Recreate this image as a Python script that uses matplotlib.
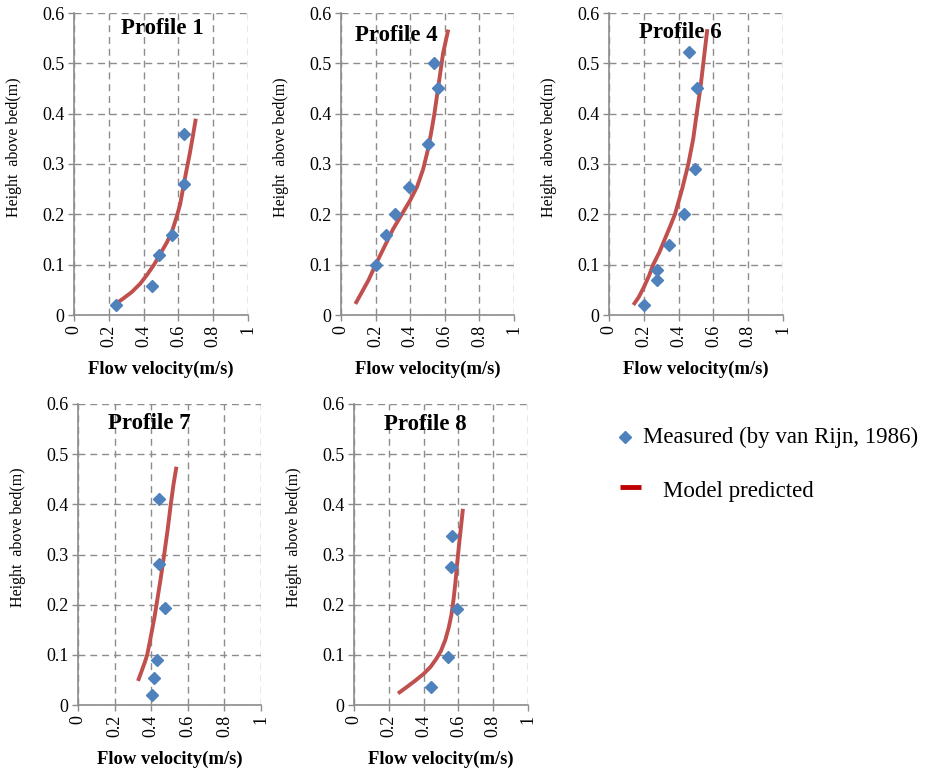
import matplotlib
matplotlib.use("Agg")
import matplotlib.pyplot as plt
from matplotlib.lines import Line2D

plt.rcParams['font.family'] = ['Liberation Serif', 'DejaVu Serif']

# --- Measured points (velocity m/s, height m) ---
p1_u = [0.242, 0.447, 0.486, 0.566, 0.63, 0.63]
p1_z = [0.02, 0.058, 0.119, 0.159, 0.26, 0.36]
p4_u = [0.202, 0.262, 0.31, 0.394, 0.502, 0.558, 0.535]
p4_z = [0.10, 0.159, 0.20, 0.255, 0.34, 0.451, 0.50]
p6_u = [0.202, 0.273, 0.277, 0.344, 0.431, 0.494, 0.504, 0.46]
p6_z = [0.02, 0.07, 0.09, 0.139, 0.20, 0.29, 0.451, 0.522]
p7_u = [0.407, 0.414, 0.429, 0.474, 0.442, 0.443]
p7_z = [0.019, 0.054, 0.09, 0.193, 0.282, 0.41]
p8_u = [0.444, 0.54, 0.594, 0.559, 0.563]
p8_z = [0.036, 0.095, 0.192, 0.275, 0.336]

# --- Model predicted profiles ---
m1_u = [0.24, 0.28, 0.33, 0.38, 0.42, 0.46, 0.50, 0.535, 0.565, 0.59, 0.61, 0.626,
        0.645, 0.665, 0.683, 0.70]
m1_z = [0.022, 0.032, 0.045, 0.062, 0.08, 0.10, 0.124, 0.145, 0.168, 0.195, 0.22, 0.25,
        0.285, 0.32, 0.355, 0.39]
m4_u = [0.083, 0.12, 0.16, 0.20, 0.25, 0.30, 0.36, 0.40, 0.44, 0.475, 0.50, 0.52,
        0.54, 0.565, 0.59, 0.62]
m4_z = [0.022, 0.045, 0.07, 0.10, 0.135, 0.17, 0.205, 0.228, 0.255, 0.29, 0.325, 0.36,
        0.40, 0.46, 0.52, 0.567]
m6_u = [0.14, 0.17, 0.20, 0.23, 0.254, 0.29, 0.32, 0.35, 0.379, 0.42, 0.456, 0.484,
        0.504, 0.525, 0.542, 0.565]
m6_z = [0.02, 0.035, 0.055, 0.078, 0.10, 0.125, 0.15, 0.175, 0.20, 0.25, 0.30, 0.35,
        0.40, 0.45, 0.50, 0.568]
m7_u = [0.328, 0.35, 0.365, 0.378, 0.392, 0.405, 0.418, 0.429, 0.451, 0.471, 0.49,
        0.507, 0.522, 0.538]
m7_z = [0.048, 0.07, 0.085, 0.10, 0.125, 0.15, 0.175, 0.20, 0.25, 0.30, 0.35,
        0.40, 0.44, 0.475]
m8_u = [0.253, 0.30, 0.35, 0.40, 0.44, 0.473, 0.50, 0.525, 0.545, 0.56, 0.572, 0.583,
        0.595, 0.607, 0.618, 0.626]
m8_z = [0.023, 0.035, 0.048, 0.062, 0.076, 0.092, 0.108, 0.13, 0.155, 0.18, 0.21, 0.245,
        0.29, 0.33, 0.365, 0.391]

x_ticks = [0, 0.2, 0.4, 0.6, 0.8, 1]
x_labels = ['0', '0.2', '0.4', '0.6', '0.8', '1']
y_ticks = [0, 0.1, 0.2, 0.3, 0.4, 0.5, 0.6]
y_labels = ['0', '0.1', '0.2', '0.3', '0.4', '0.5', '0.6']

W, H = 934, 775
panels = [
    # title, meas u, meas z, model u, model z, (left, right, top, bottom) px, title pos
    ("Profile 1", p1_u, p1_z, m1_u, m1_z, (74, 248, 13, 315), (0.51, 0.57)),
    ("Profile 4", p4_u, p4_z, m4_u, m4_z, (341, 514, 13, 315), (0.32, 0.556)),
    ("Profile 6", p6_u, p6_z, m6_u, m6_z, (609, 783, 13, 315), (0.41, 0.562)),
    ("Profile 7", p7_u, p7_z, m7_u, m7_z, (78, 261, 404, 705), (0.39, 0.562)),
    ("Profile 8", p8_u, p8_z, m8_u, m8_z, (354, 528, 404, 705), (0.41, 0.56)),
]

grid_c = '#8c8c8c'
fig = plt.figure(figsize=(W / 100, H / 100), dpi=100)

for title, mu, mz, su, sz, (l, r, t, b), (tx, ty) in panels:
    w, h = r - l, b - t
    ax = fig.add_axes([l / W, 1 - b / H, w / W, h / H])
    ax.set_xlim(0, 1)
    ax.set_ylim(0, 0.6)
    ax.set_xticks(x_ticks)
    ax.set_xticklabels(x_labels, rotation=90, fontsize=13)
    ax.set_yticks(y_ticks)
    ax.set_yticklabels(y_labels, fontsize=13)
    ax.grid(True, color=grid_c, linestyle=(0, (5, 3.5)), linewidth=1)
    for s in ['top', 'right']:
        ax.spines[s].set_visible(False)
    for s in ['left', 'bottom']:
        ax.spines[s].set_color(grid_c)
        ax.spines[s].set_linewidth(1.2)
    ax.tick_params(direction='out', length=4, color=grid_c, width=1, pad=3)
    ax.plot(su, sz, color='#C0504D', linewidth=2.8, solid_capstyle='butt',
            solid_joinstyle='round', zorder=3)
    ax.plot(mu, mz, linestyle='none', marker='D', markersize=6.5,
            color='#4F81BD', markeredgecolor='#4F81BD', zorder=4)
    ax.text(tx, ty, title, fontsize=16.5, fontweight='bold', ha='center', va='center', zorder=5)
    ax.set_xlabel('Flow velocity(m/s)', fontsize=13.4, fontweight='bold')
    ax.xaxis.set_label_coords(0.5, -46 / h)
    ax.set_ylabel('Height  above bed(m)', fontsize=11.5)
    ax.yaxis.set_label_coords(-52 / w, 0.556)

# legend drawn at figure level
fig.add_artist(Line2D([625 / W], [1 - 437 / H], marker='D', markersize=6.5, linestyle='none',
                      color='#4F81BD', transform=fig.transFigure))
fig.text(643 / W, 1 - 437 / H, 'Measured (by van Rijn, 1986)', fontsize=16.5, va='center')
fig.add_artist(Line2D([620 / W, 641 / W], [1 - 487 / H, 1 - 487 / H], color='#C00000',
                      linewidth=3.5, solid_capstyle='butt', transform=fig.transFigure))
fig.text(663 / W, 1 - 491 / H, 'Model predicted', fontsize=16.5, va='center')

fig.savefig('out.png', dpi=100)
